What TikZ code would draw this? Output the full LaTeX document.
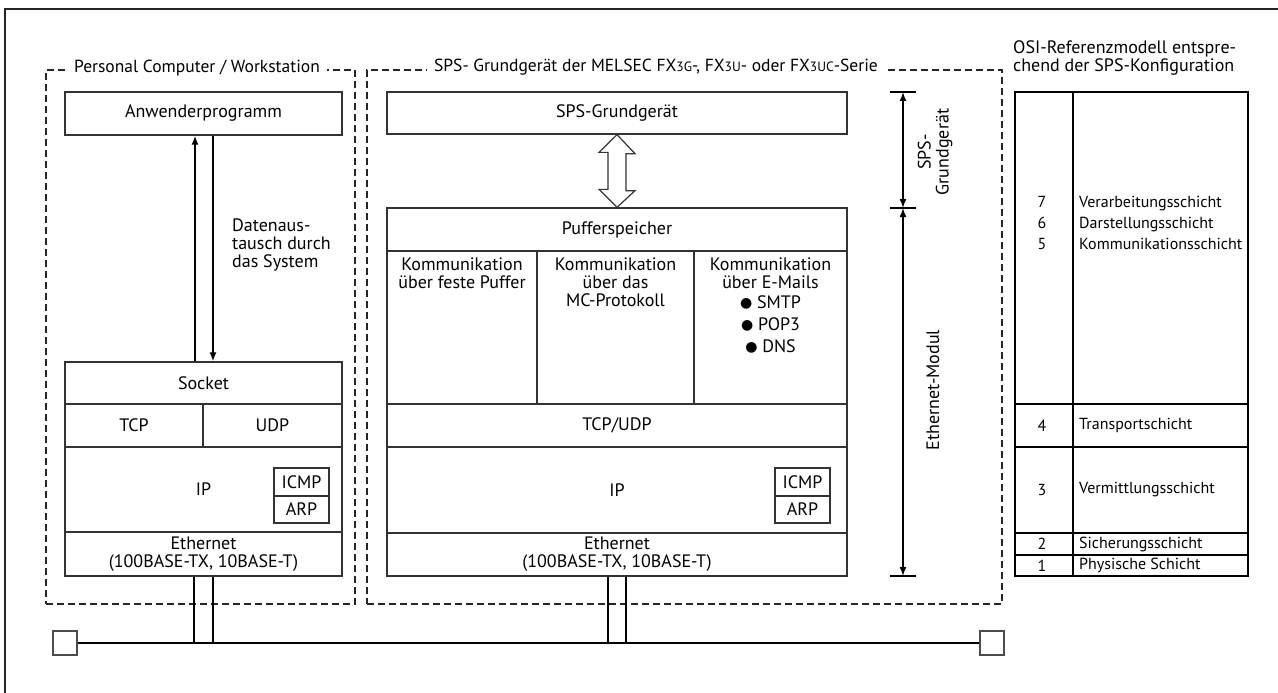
\documentclass[tikz,border=0pt]{standalone}
\usepackage{fontspec}
\setmainfont{PT Sans}
\newfontfamily\symfont{DejaVu Sans}
\usetikzlibrary{arrows.meta,positioning,calc}
\newcommand{\fxsmall}[1]{{\fontsize{13.5}{13.5}\selectfont #1}}
\newcommand{\dotitem}{\raisebox{0.5pt}{\symfont\fontsize{14}{14}\selectfont ●}\ }

\begin{document}
\begin{tikzpicture}[x=1pt, y=-1pt,
    layer/.style={rectangle, draw=black!80, line width=1.3pt, inner sep=0pt,
                  font=\fontsize{18}{18}\selectfont, align=center},
    frame/.style={rectangle, draw=black!85, line width=2pt,
                  dash pattern=on 7pt off 4pt, inner sep=0pt},
    frametitle/.style={fill=white, inner xsep=7pt, inner ysep=1pt, anchor=base,
                       font=\fontsize{17.5}{17.5}\selectfont},
    txt/.style={font=\fontsize{18}{18}\selectfont, inner sep=0pt},
    osirow/.style={rectangle, draw=black, line width=2pt, inner sep=0pt,
                   minimum width=233pt},
    ositxt/.style={font=\fontsize{16}{21}\selectfont, inner sep=0pt},
    term/.style={rectangle, draw=black!70, line width=1.5pt, minimum size=24pt, inner sep=0pt},
    flow/.style={line width=1.5pt, -{Latex[length=9pt,width=7pt]}},
    dim/.style={line width=1.5pt, {Latex[length=9pt,width=7pt]}-{Latex[length=9pt,width=7pt]}},
]
\useasboundingbox (0,0) rectangle (1278,693);

% outer frame
\draw[line width=2.5pt, black!85] (1278,9) -- (5,9) -- (5,693);

% PC frame
\node[frame, minimum width=309pt, minimum height=534pt] (pc) at (200.5,337) {};
\node[frametitle] (pctitle) at (197,73) {Personal Computer / Workstation};

% SPS frame
\node[frame, minimum width=635pt, minimum height=534pt] (sps) at (684.5,337) {};
\node[frametitle] (spstitle) at (656,72)
  {SPS- Grundgerät der MELSEC FX\fxsmall{3G}-, FX\fxsmall{3U}- oder FX\fxsmall{3UC}-Serie};

% PC stack
\node[layer, minimum width=277pt, minimum height=43pt] (anw) at (203.5,113.5) {Anwenderprogramm};
\node[layer, minimum width=277pt, minimum height=42pt] (socket) at (203.5,383) {Socket};
\node[layer, minimum width=138pt, minimum height=43pt] (tcp) at (134,425.5) {TCP};
\node[layer, minimum width=139pt, minimum height=43pt] (udp) at (272.5,425.5) {UDP};
\node[layer, minimum width=277pt, minimum height=85pt] (ipl) at (203.5,489.5) {IP};
\node[layer, minimum width=55pt, minimum height=28pt] (icmpl) at (301.5,482) {ICMP};
\node[layer, minimum width=55pt, minimum height=27pt] (arpl) at (301.5,509.5) {ARP};
\node[layer, minimum width=277pt, minimum height=44pt] (ethl) at (203.5,554)
  {Ethernet\\(100BASE-TX, 10BASE-T)};

% data exchange arrows
\draw[flow] ([xshift=-8.5pt]socket.north) -- ([xshift=-8.5pt]anw.south);
\draw[flow] ([xshift=9.5pt]anw.south) -- ([xshift=9.5pt]socket.north);
\node[txt, anchor=north west, align=left] (datex) at (232,219)
  {Datenaus-\\tausch durch\\das System};

% SPS stack
\node[layer, minimum width=460pt, minimum height=42pt] (grund) at (617,113) {SPS-Grundgerät};
\node[layer, minimum width=460pt, minimum height=43pt] (puffer) at (617,229.5) {Pufferspeicher};
\node[layer, minimum width=150pt, minimum height=153pt] (col1) at (462,327.5) {};
\node[layer, minimum width=157pt, minimum height=153pt] (col2) at (615.5,327.5) {};
\node[layer, minimum width=153pt, minimum height=153pt] (col3) at (770.5,327.5) {};
\node[txt, align=center, below=7pt of col1.north] (col1txt)
  {Kommunikation\\über feste Puffer};
\node[txt, align=center, below=7pt of col2.north] (col2txt)
  {Kommunikation\\über das\\MC-Protokoll};
\node[txt, align=center, below=7pt of col3.north] (col3txt)
  {Kommunikation\\über E-Mails\\[2pt]\dotitem SMTP\\[4pt]\dotitem POP3\\[4pt]\dotitem DNS};
\node[layer, minimum width=460pt, minimum height=43pt] (tcpudp) at (617,425.5) {TCP/UDP};
\node[layer, minimum width=460pt, minimum height=86pt] (ipm) at (617,490) {IP};
\node[layer, minimum width=55pt, minimum height=28pt] (icmpm) at (802.5,482) {ICMP};
\node[layer, minimum width=55pt, minimum height=27pt] (arpm) at (802.5,509.5) {ARP};
\node[layer, minimum width=460pt, minimum height=43pt] (ethm) at (617,554.5)
  {Ethernet\\(100BASE-TX, 10BASE-T)};

% hollow double arrow
\draw[line width=1.2pt, draw=black!80, fill=white] (grund.south) -- ++(18,19) -- ++(-9,0)
  -- ++(0,37) -- ++(9,0) -- (puffer.north) -- ++(-18,-18) -- ++(9,0) -- ++(0,-37)
  -- ++(-9,0) -- cycle;

% dimension lines
\coordinate (dtop) at (903,92);
\coordinate (dmid) at (903,208);
\coordinate (dbot) at (903,576);
\foreach \c in {dtop,dmid,dbot}
  \draw[line width=1.5pt] ([xshift=-13pt]\c) -- ([xshift=13pt]\c);
\draw[dim] (dtop) -- (dmid);
\draw[dim] (dmid) -- (dbot);
\node[txt, rotate=90, align=center] (dimsps) at (935,152) {SPS-\\Grundgerät};
\node[txt, rotate=90] (dimeth) at (933,390) {Ethernet-Modul};

% OSI reference model
\node[txt, anchor=west, align=left] (osititle) at (1013,58)
  {OSI-Referenzmodell entspre-\\chend der SPS-Konfiguration};
\node[osirow, minimum height=312pt] (r765) at (1131.5,248) {};
\node[osirow, minimum height=43pt] (r4) at (1131.5,425.5) {};
\node[osirow, minimum height=86pt] (r3) at (1131.5,490) {};
\node[osirow, minimum height=22pt] (r2) at (1131.5,544) {};
\node[osirow, minimum height=21pt] (r1) at (1131.5,565.5) {};
\draw[line width=2pt] (1073,92) -- (1073,576);
\node[ositxt, align=center] (n765) at (1042,223) {7\\6\\5};
\node[ositxt, align=left, anchor=west] (t765) at (1079,223)
  {Verarbeitungsschicht\\Darstellungsschicht\\Kommunikationsschicht};
\node[ositxt] (n4) at (1042,425.5) {4};
\node[ositxt, anchor=west] (t4) at (1079,425.5) {Transportschicht};
\node[ositxt] (n3) at (1042,490) {3};
\node[ositxt, anchor=west] (t3) at (1079,490) {Vermittlungsschicht};
\node[ositxt] (n2) at (1042,544) {2};
\node[ositxt, anchor=west] (t2) at (1079,544) {Sicherungsschicht};
\node[ositxt] (n1) at (1042,565.5) {1};
\node[ositxt, anchor=west] (t1) at (1079,565.5) {Physische Schicht};

% bus
\node[term] (term1) at (65,643) {};
\node[term] (term2) at (992,643) {};
\draw[line width=2pt] (term1.east) -- (term2.west);
\foreach \s in {-9.5,9.5}
  \draw[line width=1.5pt] ([xshift=\s pt]ethl.south) -- ([xshift=\s pt]ethl.south |- term1.center);
\foreach \s in {-9,9}
  \draw[line width=1.5pt] ([xshift=\s pt]ethm.south) -- ([xshift=\s pt]ethm.south |- term1.center);

\end{tikzpicture}
\end{document}
